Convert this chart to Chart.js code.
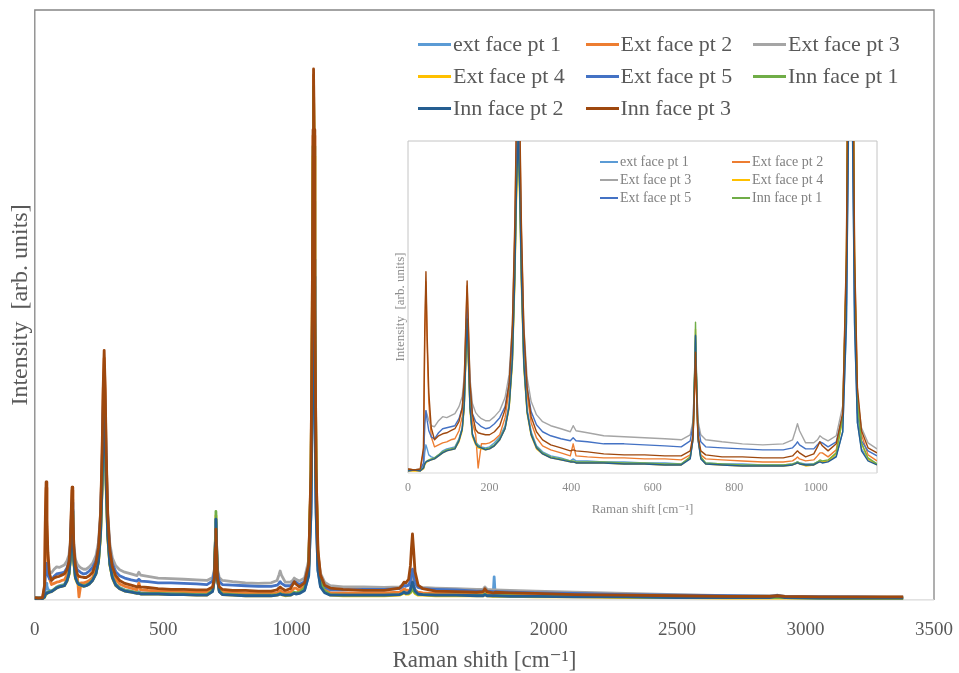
<!DOCTYPE html>
<html>
<head>
<meta charset="utf-8">
<title>Raman spectra</title>
<script src="https://cdn.jsdelivr.net/npm/chart.js@4.4.1/dist/chart.umd.min.js"></script>
<style>
  html, body { margin: 0; padding: 0; background: #fff; }
  #wrap { position: relative; width: 959px; height: 673px; overflow: hidden; }
  #mainChart { position: absolute; left: 0; top: 0; }
  #insetChart { position: absolute; left: 380px; top: 130px; }
  .legend { position: absolute; display: grid; font-family: 'Liberation Serif', serif; white-space: nowrap; }
  .legend .item { display: flex; align-items: center; }
  .legend .swatch { display: inline-block; flex: none; }
  #mainLegend { left: 418px; top: 28px; grid-template-columns: repeat(3, 167.5px); grid-auto-rows: 32px; font-size: 22px; color: #595959; }
  #mainLegend .swatch { width: 33px; height: 3px; margin-right: 2px; }
  #insetLegend { left: 600px; top: 153px; grid-template-columns: repeat(2, 132px); grid-auto-rows: 18px; font-size: 14px; color: #808080; }
  #insetLegend .swatch { width: 18px; height: 1.5px; margin-right: 2px; }
</style>
</head>
<body>
<div id="wrap">
  <canvas id="mainChart" width="959" height="673"></canvas>
  <div id="mainLegend" class="legend"></div>
  <canvas id="insetChart" width="510" height="392"></canvas>
  <div id="insetLegend" class="legend"></div>
</div>
<script>
// Raman shift (cm-1) sampling shared by every spectrum
const ramanShift = [
  0, 15, 30, 38, 41, 44, 47, 51, 57, 65,
  75, 85, 95, 105, 115, 125, 133, 138, 142, 145,
  148, 152, 158, 166, 172, 180, 190, 200, 212, 225,
  238, 248, 256, 262, 266, 270, 274, 278, 284, 292,
  302, 315, 330, 350, 375, 398, 405, 412, 440, 480,
  530, 580, 630, 670, 692, 699, 703, 705, 707, 711,
  718, 730, 770, 820, 870, 920, 943, 950, 955, 960,
  975, 995, 1004, 1010, 1016, 1030, 1050, 1066, 1075, 1080,
  1083, 1085, 1087, 1090, 1095, 1102, 1112, 1128, 1150, 1200,
  1280, 1360, 1420, 1430, 1437, 1444, 1455, 1462, 1466, 1470,
  1474, 1480, 1492, 1510, 1560, 1640, 1720, 1745, 1752, 1760,
  1784, 1788, 1792, 1850, 1950, 2100, 2300, 2500, 2700, 2860,
  2890, 2920, 3050, 3200, 3380
];

// intensities (arb. units)
const extFacePt1 = [
  3, 3, 3, 6, 20, 28, 24, 18, 16, 15,
  18, 22, 24, 25, 26, 34, 45, 69, 117, 150,
  115, 66, 39, 31, 28, 26, 25, 26, 30, 36,
  47, 69, 117, 203, 292, 345, 291, 201, 113, 64,
  41, 27, 21, 17, 15, 12, 14, 12, 12, 11,
  11, 10, 10, 9, 15, 34, 94, 132, 94, 34,
  15, 10, 9, 9, 8, 8, 9, 10, 11, 10,
  9, 9, 11, 12, 11, 12, 17, 41, 145, 332,
  531, 600, 531, 332, 145, 50, 24, 14, 9, 9,
  9, 9, 10, 12, 15, 13, 14, 19, 28, 36,
  28, 18, 11, 10, 9, 9, 8, 8, 11, 8,
  8, 39, 8, 7, 7, 6, 5, 5, 4, 4,
  8, 4, 4, 3, 3
];
const extFacePt2 = [
  4, 3, 3, 22, 130, 190, 125, 70, 36, 26,
  28, 30, 31, 33, 34, 42, 56, 85, 146, 186,
  144, 83, 50, 38, 5, 29, 29, 30, 33, 38,
  55, 82, 139, 241, 347, 410, 346, 239, 136, 78,
  50, 35, 27, 23, 20, 17, 29, 17, 16, 15,
  15, 14, 14, 13, 18, 34, 85, 118, 85, 34,
  18, 14, 13, 12, 11, 11, 12, 14, 16, 14,
  12, 13, 17, 20, 20, 16, 23, 57, 216, 493,
  787, 890, 787, 493, 216, 80, 38, 18, 12, 12,
  12, 12, 13, 16, 19, 17, 16, 17, 20, 24,
  21, 16, 13, 12, 11, 11, 10, 10, 14, 10,
  9, 10, 9, 9, 8, 7, 6, 6, 5, 5,
  5, 5, 4, 4, 4
];
const extFacePt3 = [
  4, 3, 4, 8, 50, 62, 58, 52, 47, 46,
  52, 56, 55, 57, 59, 66, 76, 97, 141, 170,
  139, 94, 69, 60, 57, 54, 52, 52, 56, 62,
  75, 98, 148, 237, 330, 385, 330, 236, 146, 95,
  71, 58, 51, 47, 44, 41, 47, 42, 40, 37,
  36, 35, 34, 33, 38, 52, 100, 130, 100, 52,
  38, 33, 31, 29, 28, 29, 33, 42, 49, 42,
  30, 30, 33, 37, 35, 32, 37, 67, 197, 430,
  675, 760, 675, 430, 197, 75, 45, 30, 24, 22,
  22, 21, 22, 25, 29, 26, 25, 28, 34, 40,
  35, 27, 22, 21, 20, 19, 18, 18, 22, 18,
  17, 17, 17, 16, 15, 13, 11, 9, 7, 7,
  7, 6, 6, 5, 5
];
const extFacePt4 = [
  2, 2, 2, 4, 8, 10, 11, 12, 13, 14,
  17, 20, 22, 23, 24, 31, 42, 65, 112, 144,
  110, 62, 36, 28, 25, 24, 23, 24, 27, 33,
  44, 64, 108, 188, 270, 322, 270, 186, 104, 59,
  37, 24, 19, 15, 13, 11, 11, 10, 10, 10,
  9, 9, 8, 8, 15, 35, 100, 143, 100, 35,
  15, 9, 8, 7, 7, 7, 8, 9, 10, 9,
  7, 8, 10, 12, 11, 12, 19, 54, 202, 468,
  752, 860, 752, 468, 202, 68, 29, 14, 8, 7,
  7, 7, 8, 10, 12, 10, 10, 12, 15, 17,
  15, 11, 8, 8, 7, 7, 7, 7, 9, 7,
  6, 6, 6, 6, 5, 5, 4, 4, 3, 3,
  3, 3, 3, 2, 2
];
const extFacePt5 = [
  3, 3, 3, 10, 48, 62, 52, 42, 36, 34,
  40, 44, 45, 46, 47, 54, 65, 88, 134, 165,
  132, 85, 59, 51, 49, 46, 44, 45, 49, 55,
  66, 89, 138, 225, 316, 370, 315, 223, 135, 85,
  61, 48, 41, 37, 34, 32, 35, 32, 31, 29,
  29, 28, 27, 26, 32, 48, 102, 136, 102, 48,
  31, 26, 25, 24, 23, 23, 25, 28, 31, 28,
  24, 24, 28, 31, 30, 26, 31, 57, 168, 366,
  577, 650, 577, 366, 168, 60, 32, 22, 17, 17,
  18, 18, 19, 22, 25, 23, 25, 32, 43, 52,
  43, 29, 21, 19, 18, 17, 15, 15, 18, 15,
  14, 14, 14, 13, 12, 11, 9, 8, 7, 6,
  7, 6, 5, 5, 4
];
const innFacePt1 = [
  3, 3, 3, 5, 9, 11, 12, 13, 14, 15,
  18, 21, 23, 24, 25, 33, 44, 68, 117, 150,
  115, 65, 38, 30, 27, 25, 24, 25, 28, 34,
  45, 66, 112, 194, 279, 330, 278, 192, 108, 61,
  39, 26, 20, 16, 14, 12, 12, 11, 11, 11,
  10, 10, 9, 9, 16, 37, 106, 150, 106, 37,
  16, 10, 9, 8, 8, 8, 9, 10, 11, 10,
  8, 9, 11, 13, 12, 13, 20, 56, 208, 480,
  769, 870, 769, 480, 208, 70, 30, 15, 9, 8,
  8, 8, 9, 11, 13, 11, 11, 13, 16, 18,
  16, 12, 9, 9, 8, 8, 8, 8, 10, 8,
  7, 7, 7, 7, 6, 6, 5, 4, 4, 4,
  4, 4, 3, 3, 3
];
const innFacePt2 = [
  2, 3, 2, 5, 9, 11, 12, 12, 13, 14,
  17, 20, 22, 23, 24, 32, 44, 68, 119, 153,
  117, 65, 38, 29, 26, 25, 23, 24, 27, 33,
  44, 66, 113, 197, 283, 335, 282, 195, 109, 61,
  38, 25, 19, 15, 13, 11, 11, 10, 10, 10,
  9, 9, 8, 8, 14, 34, 97, 137, 97, 34,
  14, 9, 8, 7, 7, 7, 8, 9, 10, 9,
  8, 8, 10, 11, 10, 11, 16, 41, 149, 343,
  548, 620, 548, 343, 149, 50, 22, 12, 8, 8,
  8, 8, 9, 11, 13, 11, 12, 17, 24, 30,
  24, 15, 10, 9, 8, 8, 7, 7, 9, 7,
  7, 7, 7, 6, 6, 5, 5, 4, 4, 4,
  7, 4, 3, 3, 3
];
const innFacePt3 = [
  4, 3, 4, 25, 140, 200, 136, 80, 45, 33,
  37, 39, 40, 42, 44, 51, 65, 93, 152, 191,
  149, 90, 58, 43, 40, 39, 38, 38, 41, 47,
  63, 89, 147, 251, 358, 423, 357, 249, 144, 85,
  56, 41, 33, 28, 25, 22, 23, 22, 21, 19,
  18, 18, 17, 17, 22, 38, 88, 120, 88, 38,
  22, 18, 16, 16, 15, 15, 17, 20, 22, 20,
  16, 19, 26, 31, 27, 22, 29, 60, 221, 500,
  797, 900, 797, 500, 221, 85, 42, 25, 20, 18,
  16, 16, 20, 25, 30, 29, 35, 58, 88, 112,
  88, 48, 25, 19, 15, 14, 13, 14, 19, 14,
  12, 12, 13, 12, 11, 9, 8, 7, 6, 6,
  7, 6, 5, 5, 5
];

const seriesLabels = [
  'ext face pt 1', 'Ext face pt 2', 'Ext face pt 3', 'Ext face pt 4',
  'Ext face pt 5', 'Inn face pt 1', 'Inn face pt 2', 'Inn face pt 3'
];
const seriesValues = [
  extFacePt1, extFacePt2, extFacePt3, extFacePt4,
  extFacePt5, innFacePt1, innFacePt2, innFacePt3
];
const seriesColors = [
  '#5b9bd5', '#ed7d31', '#a5a5a5', '#ffc000',
  '#4472c4', '#70ad47', '#255e91', '#9e480e'
];

const mainXTicks = [0, 500, 1000, 1500, 2000, 2500, 3000, 3500];
const insetXTicks = [0, 200, 400, 600, 800, 1000];

const serif = "'Liberation Serif', 'DejaVu Serif', serif";

function buildDatasets(lineWidth) {
  return seriesValues.map((values, i) => ({
    label: seriesLabels[i],
    data: ramanShift.map((x, k) => ({ x: x, y: values[k] })),
    borderColor: seriesColors[i],
    backgroundColor: seriesColors[i],
    borderWidth: lineWidth,
    borderJoinStyle: 'round',
    pointRadius: 0,
    tension: 0,
    fill: false,
    // later series sit on top, like the spreadsheet plot
    order: seriesValues.length - i
  }));
}

// box around the plot area, with a paler bottom axis line
const plotFrame = {
  id: 'plotFrame',
  beforeDatasetsDraw(chart, args, opts) {
    const { ctx, chartArea: a } = chart;
    ctx.save();
    ctx.lineWidth = opts.width;
    ctx.strokeStyle = opts.color;
    ctx.beginPath();
    ctx.moveTo(a.left, a.bottom);
    ctx.lineTo(a.left, a.top);
    ctx.lineTo(a.right, a.top);
    ctx.lineTo(a.right, a.bottom);
    ctx.stroke();
    ctx.strokeStyle = opts.axisColor;
    ctx.beginPath();
    ctx.moveTo(a.left, a.bottom);
    ctx.lineTo(a.right, a.bottom);
    ctx.stroke();
    ctx.restore();
  }
};

function fillLegend(el, chart, count) {
  chart.data.datasets.slice(0, count).forEach((ds) => {
    const item = document.createElement('div');
    item.className = 'item';
    const swatch = document.createElement('span');
    swatch.className = 'swatch';
    swatch.style.background = ds.borderColor;
    const text = document.createElement('span');
    text.textContent = ds.label;
    item.append(swatch, text);
    el.append(item);
  });
}

const plainNumber = (v) => String(v);

const mainChart = new Chart(document.getElementById('mainChart'), {
  type: 'line',
  data: { datasets: buildDatasets(2.8) },
  options: {
    responsive: false,
    animation: false,
    layout: { padding: { left: 0, right: 25, top: 10, bottom: 1 } },
    plugins: {
      legend: { display: false },
      tooltip: { enabled: false },
      plotFrame: { color: '#858585', axisColor: '#d9d9d9', width: 1.3 }
    },
    scales: {
      x: {
        type: 'linear',
        min: 0,
        max: 3500,
        afterBuildTicks: (scale) => { scale.ticks = mainXTicks.map((v) => ({ value: v })); },
        ticks: {
          color: '#595959', padding: 3, maxRotation: 0, callback: plainNumber,
          font: { family: serif, size: 19, lineHeight: 2.9 }
        },
        grid: { display: false, drawTicks: false },
        border: { display: false },
        title: {
          display: true,
          text: 'Raman shith [cm⁻¹]',
          color: '#595959',
          font: { family: serif, size: 23, lineHeight: 1 },
          padding: { top: -12, bottom: 0 }
        }
      },
      y: {
        type: 'linear',
        min: 0,
        max: 1000,
        ticks: { display: false },
        grid: { display: false, drawTicks: false },
        border: { display: false },
        title: {
          display: true,
          text: 'Intensity  [arb. units]',
          color: '#595959',
          font: { family: serif, size: 24 },
          padding: { top: 6, bottom: 0 }
        }
      }
    }
  },
  plugins: [plotFrame]
});

const insetChart = new Chart(document.getElementById('insetChart'), {
  type: 'line',
  data: { datasets: buildDatasets(1.4) },
  options: {
    responsive: false,
    animation: false,
    layout: { padding: { left: 10.4, right: 13, top: 11, bottom: 5.5 } },
    plugins: {
      legend: { display: false },
      tooltip: { enabled: false },
      plotFrame: { color: '#c4c4c4', axisColor: '#d9d9d9', width: 1 }
    },
    scales: {
      x: {
        type: 'linear',
        min: 0,
        max: 1150,
        afterBuildTicks: (scale) => { scale.ticks = insetXTicks.map((v) => ({ value: v })); },
        ticks: {
          color: '#8c8c8c', padding: 3, maxRotation: 0, callback: plainNumber,
          font: { family: serif, size: 12, lineHeight: 2 }
        },
        grid: { display: false, drawTicks: false },
        border: { display: false },
        title: {
          display: true,
          text: 'Raman shift [cm⁻¹]',
          color: '#8c8c8c',
          font: { family: serif, size: 13, lineHeight: 1 },
          padding: { top: 0.5, bottom: 0 }
        }
      },
      y: {
        type: 'linear',
        min: 0,
        max: 330,
        ticks: { display: false },
        grid: { display: false, drawTicks: false },
        border: { display: false },
        title: {
          display: true,
          text: 'Intensity  [arb. units]',
          color: '#8c8c8c',
          font: { family: serif, size: 13 },
          padding: { top: 2, bottom: 0 }
        }
      }
    }
  },
  plugins: [plotFrame]
});

fillLegend(document.getElementById('mainLegend'), mainChart, 8);
fillLegend(document.getElementById('insetLegend'), insetChart, 6);
</script>
</body>
</html>
